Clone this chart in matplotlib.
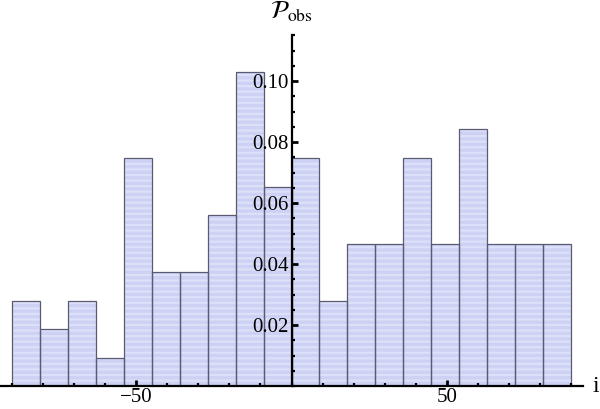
import numpy as np
import matplotlib
matplotlib.use("Agg")
import matplotlib.pyplot as plt
from matplotlib.ticker import MultipleLocator, FixedLocator

# histogram bins (width 9, from -90 to 90) and observed probabilities
bin_edges = [-90, -81, -72, -63, -54, -45, -36, -27, -18, -9, 0,
             9, 18, 27, 36, 45, 54, 63, 72, 81, 90]
probs = [0.028, 0.0187, 0.028, 0.0093, 0.0748, 0.0374, 0.0374, 0.0561, 0.1028, 0.0654,
         0.0748, 0.028, 0.0467, 0.0467, 0.0748, 0.0467, 0.0841, 0.0467, 0.0467, 0.0467]
x_major = [-50, 50]
y_major = [0.02, 0.04, 0.06, 0.08, 0.10]
y_labels = ["0.02", "0.04", "0.06", "0.08", "0.10"]

plt.rcParams["font.family"] = ["Liberation Serif", "DejaVu Serif"]
plt.rcParams["mathtext.fontset"] = "stix"
plt.rcParams["hatch.linewidth"] = 1.6

fig = plt.figure(figsize=(6.0, 4.09), dpi=100)
W, H = 600, 409
x0_px, y0_px, top_px, right_px = 291.5, 386, 35, 583
sx = 3.105           # px per unit in x
sy = 3050            # px per unit in y
ax = fig.add_axes([0, (H - y0_px) / H, right_px / W, (y0_px - top_px) / H])
ax.set_xlim(-x0_px / sx, (right_px - x0_px) / sx)
ax.set_ylim(0, (y0_px - top_px) / sy)

widths = np.diff(bin_edges)
# striped fill, then outlines on top
ax.bar(bin_edges[:-1], probs, width=widths, align="edge",
       color="#cdd2f4", edgecolor="#dce0f9", hatch="---", linewidth=0, zorder=1)
ax.bar(bin_edges[:-1], probs, width=widths, align="edge",
       fill=False, edgecolor="#5a5a72", linewidth=0.9, zorder=1.2)

for s in ["top", "right"]:
    ax.spines[s].set_visible(False)
ax.spines["left"].set_position(("data", 0))
ax.spines["bottom"].set_position(("data", 0))
for s in ["left", "bottom"]:
    ax.spines[s].set_linewidth(1.6)
    ax.spines[s].set_zorder(3)

ax.xaxis.set_major_locator(FixedLocator(x_major))
ax.xaxis.set_minor_locator(FixedLocator([v for v in range(-90, 91, 10) if v not in x_major]))
ax.set_xticklabels(["\u221250", "50"])
ax.yaxis.set_major_locator(FixedLocator(y_major))
ax.set_yticklabels(y_labels)
ax.yaxis.set_minor_locator(MultipleLocator(0.005))

ax.tick_params(which="major", direction="in", length=4, width=2, labelsize=15)
ax.tick_params(which="minor", direction="in", length=2.5, width=1.6)
ax.tick_params(axis="x", which="major", pad=1.5)
ax.tick_params(axis="y", which="major", pad=2)

ax.text(0, 1.03, r"$\mathcal{P}_{\rm obs}$", transform=ax.get_xaxis_transform(),
        ha="center", va="bottom", fontsize=18)
fig.text(596 / W, (H - y0_px) / H, "i", ha="center", va="center", fontsize=17)

fig.savefig("out.png", dpi=100)
